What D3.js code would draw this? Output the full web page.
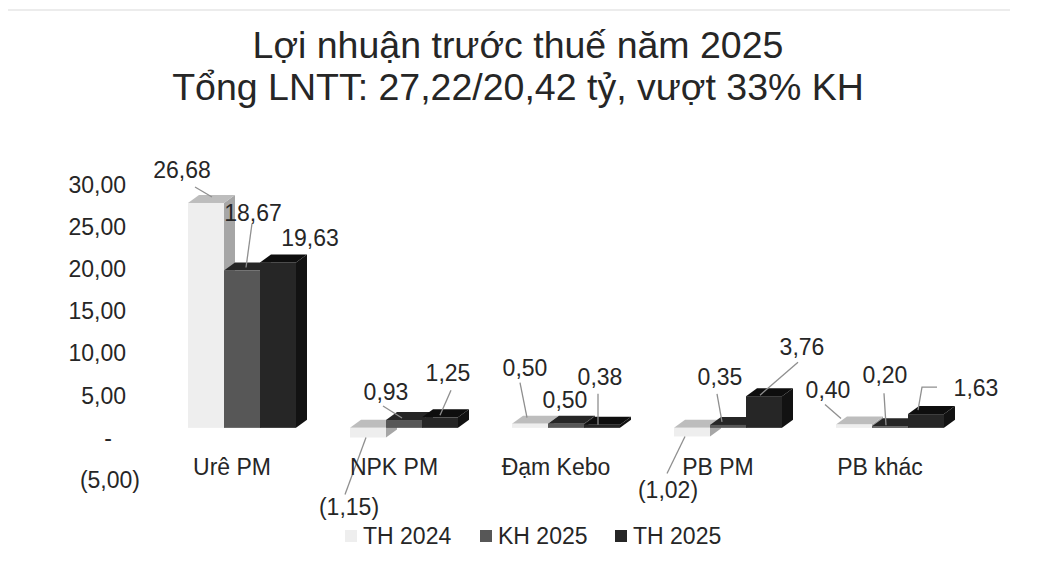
<!DOCTYPE html>
<html><head><meta charset="utf-8">
<script src="https://cdn.jsdelivr.net/npm/d3@7/dist/d3.min.js"></script>
<style>
html,body{margin:0;padding:0;background:#fff;}
svg{display:block;font-family:"Liberation Sans",Arial,sans-serif;}
</style></head>
<body><svg id="c" width="1037" height="566"></svg>
<script>
// ---- data ----
const categories = ["Urê PM", "NPK PM", "Đạm Kebo", "PB PM", "PB khác"];
const seriesNames = ["TH 2024", "KH 2025", "TH 2025"];
const th2024 = [26.68, -1.15, 0.50, -1.02, 0.40];
const kh2025 = [18.67, 0.93, 0.50, 0.35, 0.20];
const th2025 = [19.63, 1.25, 0.38, 3.76, 1.63];
const tickValues = [-5, 0, 5, 10, 15, 20, 25, 30];
const titleLines = ["Lợi nhuận trước thuế năm 2025", "Tổng LNTT: 27,22/20,42 tỷ, vượt 33% KH"];

// ---- layout (label offsets relative to bar anchor) ----
const labelOffsets = [
  [[-24,-33],[11,-58],[32,-25]],
  [[-19,69],[-18,-28],[8,-45]],
  [[-5,-56],[-1,-24],[-2,-48]],
  [[-24,53],[-8,-48],[38,-49]],
  [[-26,-35],[-5,-51],[50,-26]]
];
const leaders = [
  [[[-11,-16],[6,-6]], [[10,-47],[4,-3]], null],
  [[[-23,57],[-2,0]], [[-21,-14],[-2,-2]], [[11,-27],[0,-2]]],
  [[[-10,-41],[-3,-6]], null, [[-4,-31],[-4,0]]],
  [[[-25,37],[-7,0]], [[-11,-31],[-6,-3]], [[34,-34],[-4,-1]]],
  [[[-29,-20],[-13,-6]], [[-6,-33],[-4,-1]], [[11,-27],[-4,-27],[-8,-4]]]
];
const faceColors = [
  {front:"#eeeeee", top:"#bdbdbd", side:"#a6a6a6"},
  {front:"#575757", top:"#262626", side:"#2e2e2e"},
  {front:"#262626", top:"#0e0e0e", side:"#121212"}
];

const values = [th2024, kh2025, th2025];
const svg = d3.select("#c");
const ink = "#262626";

// faint scan line at the top
svg.append("line").attr("x1", 8).attr("x2", 1010).attr("y1", 10).attr("y2", 10)
  .attr("stroke", "#e6e6e6").attr("stroke-width", 1.5);

// title
svg.selectAll("text.title").data(titleLines).join("text")
  .attr("class","title").attr("x", 518).attr("y",(d,i)=>58+i*42)
  .attr("text-anchor","middle").attr("font-size",37.5).attr("fill",ink).text(d=>d);

// scales
const y = d3.scaleLinear().domain([-5,30]).range([480,185]);
const frontShift = -10;
const yf = v => y(v) + frontShift;
const x0 = d3.scaleBand().domain(categories).range([161, 971]).paddingInner(0).paddingOuter(0);
const groupW = 108;
const x1 = d3.scaleBand().domain(seriesNames).range([0, groupW]);
const dX = 11, dY = -8;

const fmt = v => {
  const s = d3.format(".2f")(Math.abs(v)).replace(".", ",");
  return v < 0 ? "(" + s + ")" : s;
};

// y axis
const yAxis = d3.axisLeft(y).tickValues(tickValues).tickSize(0).tickPadding(0)
  .tickFormat(v => v === 0 ? "-" : fmt(v));
const ga = svg.append("g").attr("transform","translate(126,0)").call(yAxis);
ga.select(".domain").remove();
ga.selectAll("text").attr("font-size",23).attr("fill",ink)
  .attr("font-family",'"Liberation Sans",Arial,sans-serif')
  .attr("dx", v => v === 0 ? -14 : (v < 0 ? 14 : 0));

// bars
const gb = svg.append("g");
categories.forEach((c, ci) => {
  const gx = x0(c) + (x0.bandwidth() - groupW) / 2;
  seriesNames.forEach((s, si) => {
    const v = values[si][ci];
    const w = x1.bandwidth();
    const xl = gx + x1(s);
    const top = yf(Math.max(v, 0));
    const bot = yf(Math.min(v, 0));
    const col = faceColors[si];
    gb.append("polygon").attr("points", [[xl+w,top],[xl+w+dX,top+dY],[xl+w+dX,bot+dY],[xl+w,bot]].join(" ")).attr("fill", col.side);
    gb.append("polygon").attr("points", [[xl,top],[xl+dX,top+dY],[xl+w+dX,top+dY],[xl+w,top]].join(" ")).attr("fill", col.top);
    gb.append("rect").attr("x", xl).attr("y", top).attr("width", w).attr("height", Math.max(bot-top, 0.5)).attr("fill", col.front);
  });
});

// labels
const gl = svg.append("g");
categories.forEach((c, ci) => {
  const gx = x0(c) + (x0.bandwidth() - groupW) / 2;
  seriesNames.forEach((s, si) => {
    const v = values[si][ci];
    const ax = gx + x1(s) + x1.bandwidth()/2;
    const ay = yf(v);
    const ld = leaders[ci][si];
    if (ld) {
      gl.append("polyline").attr("points", ld.map(p => [ax+p[0], ay+p[1]]).join(" "))
        .attr("fill","none").attr("stroke","#8f8f8f").attr("stroke-width",1.3);
    }
    const o = labelOffsets[ci][si];
    gl.append("text").attr("x", ax+o[0]).attr("y", ay+o[1]).attr("dy","0.36em")
      .attr("text-anchor","middle").attr("font-size",23).attr("fill",ink).text(fmt(v));
  });
});

// category labels
svg.append("g").selectAll("text").data(categories).join("text")
  .attr("x", d => x0(d) + x0.bandwidth()/2 - 10).attr("y", 467).attr("dy","0.36em")
  .attr("text-anchor","middle").attr("font-size",23).attr("fill",ink).text(d=>d);

// legend
const legX = [345, 480, 615];
const lg = svg.append("g");
seriesNames.forEach((s, i) => {
  lg.append("rect").attr("x", legX[i]).attr("y", 530).attr("width", 12).attr("height", 12)
    .attr("fill", faceColors[i].front);
  lg.append("text").attr("x", legX[i] + 18).attr("y", 536).attr("dy","0.36em")
    .attr("font-size",23).attr("fill",ink).text(s);
});
</script></body></html>
